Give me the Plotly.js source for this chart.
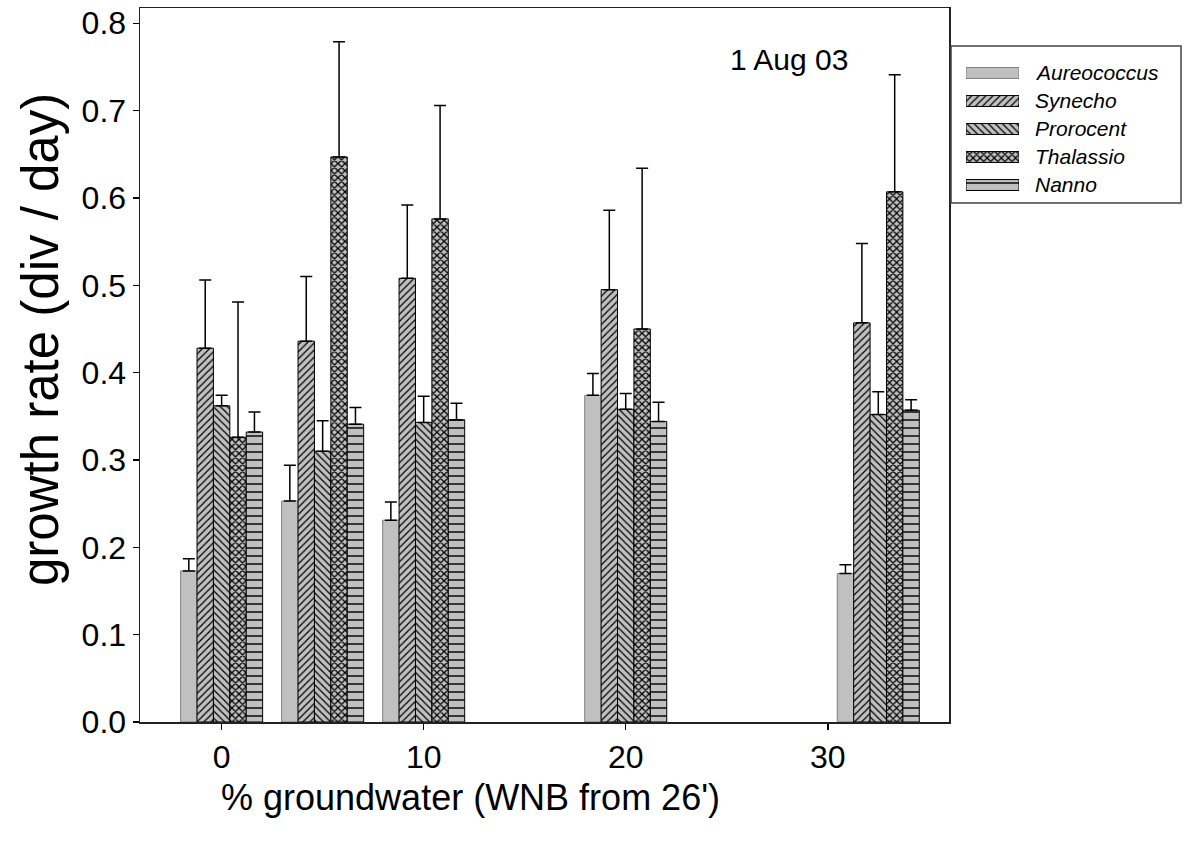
<!DOCTYPE html>
<html>
<head>
<meta charset="utf-8">
<script src="https://cdn.plot.ly/plotly-3.0.1.min.js"></script>
<style>html,body{margin:0;padding:0;background:#fff;}#chart{width:1188px;height:854px;}</style>
</head>
<body>
<div id="chart"></div>
<script>
// ---- data ----
const groundwater = [0, 5, 10, 20, 32.5];
const seriesNames = ["Aureococcus", "Synecho", "Prorocent", "Thalassio", "Nanno"];
const aureococcus = [0.173, 0.253, 0.231, 0.374, 0.170];
const aureococcusTop = [0.187, 0.294, 0.252, 0.399, 0.180];
const synecho = [0.428, 0.436, 0.508, 0.495, 0.457];
const synechoTop = [0.506, 0.510, 0.592, 0.586, 0.548];
const prorocent = [0.362, 0.310, 0.343, 0.358, 0.352];
const prorocentTop = [0.374, 0.345, 0.373, 0.376, 0.378];
const thalassio = [0.326, 0.647, 0.576, 0.450, 0.607];
const thalassioTop = [0.481, 0.779, 0.706, 0.634, 0.741];
const nanno = [0.332, 0.341, 0.346, 0.344, 0.357];
const nannoTop = [0.355, 0.360, 0.365, 0.366, 0.369];
const xTicks = [0, 10, 20, 30];
const yTicks = [0.0, 0.1, 0.2, 0.3, 0.4, 0.5, 0.6, 0.7, 0.8];
const xTitle = "% groundwater (WNB from 26')";
const yTitle = "growth rate (div / day)";
const dateLabel = "1 Aug 03";

const values = [aureococcus, synecho, prorocent, thalassio, nanno];
const tops = [aureococcusTop, synechoTop, prorocentTop, thalassioTop, nannoTop];

// ---- styles ----
const FONT = "Arial, 'Liberation Sans', Helvetica, sans-serif";
const FILL = "#c0c0c0";
const styles = [
  {shape: "", size: 8, solidity: 0.2, line: "#808080"},
  {shape: "/", size: 5, solidity: 0.25, line: "#000"},
  {shape: "\\", size: 5, solidity: 0.25, line: "#000"},
  {shape: "x", size: 5, solidity: 0.45, line: "#000"},
  {shape: "-", size: 8, solidity: 0.18, line: "#000"}
];

const W = 1188, H = 854;
const mL = 140, mR = 7, mT = 8, mB = 132;
const pw = W - mL - mR, ph = H - mT - mB;
const px2x = p => (p - mL) / pw;
const px2y = p => (H - mB - p) / ph;

const traces = [];
seriesNames.forEach((name, i) => {
  const st = styles[i];
  traces.push({
    type: "bar",
    name: name,
    x: groundwater,
    y: values[i],
    xaxis: "x", yaxis: "y",
    marker: {
      color: FILL,
      line: {color: st.line, width: 1},
      pattern: {shape: st.shape, fgcolor: "#000", bgcolor: FILL, size: st.size, solidity: st.solidity, fillmode: "replace"}
    },
    error_y: {
      type: "data", symmetric: false,
      array: tops[i].map((t, k) => t - values[i][k]),
      arrayminus: values[i].map(() => 0),
      color: "#000", thickness: 1.5, width: 6
    },
    showlegend: false,
    hoverinfo: "x+y+name"
  });
});

// legend swatches drawn as bars on a hidden helper axis
seriesNames.forEach((name, i) => {
  const st = styles[i];
  traces.push({
    type: "bar",
    orientation: "h",
    name: name + " key",
    x: [1], y: [i], base: [0],
    width: 0.39, offset: -0.195,
    xaxis: "x2", yaxis: "y2",
    marker: {
      color: FILL,
      line: {color: st.line, width: 1},
      pattern: {shape: st.shape, fgcolor: "#000", bgcolor: FILL, size: st.size, solidity: st.solidity, fillmode: "replace"}
    },
    showlegend: false,
    hoverinfo: "skip"
  });
});

const annotations = seriesNames.map((name, i) => ({
  xref: "paper", yref: "y2",
  x: px2x(1033), y: i,
  xanchor: "left", yanchor: "middle",
  text: "<i>" + name + "</i>",
  showarrow: false,
  font: {family: FONT, size: 21, color: "#000"}
}));
annotations.push({
  xref: "paper", yref: "paper",
  x: px2x(789), y: px2y(60),
  xanchor: "center", yanchor: "middle",
  text: dateLabel, showarrow: false,
  font: {family: FONT, size: 30, color: "#000"}
});
annotations.push({
  xref: "paper", yref: "paper",
  x: px2x(470), y: px2y(797),
  xanchor: "center", yanchor: "middle",
  text: xTitle, showarrow: false,
  font: {family: FONT, size: 36, color: "#000"}
});
annotations.push({
  xref: "paper", yref: "paper",
  x: px2x(40), y: px2y(340),
  xanchor: "center", yanchor: "middle",
  text: yTitle, showarrow: false, textangle: -90,
  font: {family: FONT, size: 51, color: "#000"}
});

const layout = {
  width: W, height: H,
  margin: {l: mL, r: mR, t: mT, b: mB, pad: 0},
  paper_bgcolor: "#fff", plot_bgcolor: "#fff",
  showlegend: false,
  barmode: "group",
  bargap: 0.188, bargroupgap: 0,
  font: {family: FONT, color: "#000"},
  xaxis: {
    domain: [0, px2x(949)],
    range: [-4.04, 36.0],
    tickvals: xTicks, ticktext: xTicks.map(String),
    ticks: "outside", ticklen: 6, tickwidth: 1.5, tickcolor: "#000",
    showgrid: false, zeroline: false,
    showline: true, linecolor: "#222", linewidth: 1.5, mirror: true,
    tickfont: {family: FONT, size: 32, color: "#000"},
    anchor: "y", fixedrange: true, automargin: false
  },
  yaxis: {
    domain: [0, 1],
    range: [0, 0.8175],
    tickvals: yTicks, ticktext: yTicks.map(v => v.toFixed(1)),
    ticks: "outside", ticklen: 6, tickwidth: 1.5, tickcolor: "#000",
    showgrid: false, zeroline: false,
    showline: true, linecolor: "#222", linewidth: 1.5, mirror: true,
    tickfont: {family: FONT, size: 32, color: "#000"},
    anchor: "x", fixedrange: true, automargin: false
  },
  xaxis2: {
    domain: [px2x(966), px2x(1019)],
    range: [0, 1], visible: false, anchor: "y2", fixedrange: true
  },
  yaxis2: {
    domain: [px2y(199), px2y(59)],
    range: [4.5, -0.5], visible: false, anchor: "x2", fixedrange: true
  },
  shapes: [{
    type: "rect", xref: "paper", yref: "paper",
    x0: px2x(951), x1: px2x(1181), y0: px2y(203), y1: px2y(46),
    line: {color: "#444", width: 1.5}, fillcolor: "rgba(0,0,0,0)"
  }],
  annotations: annotations
};

Plotly.newPlot("chart", traces, layout, {displayModeBar: false, staticPlot: true});
</script>
</body>
</html>
